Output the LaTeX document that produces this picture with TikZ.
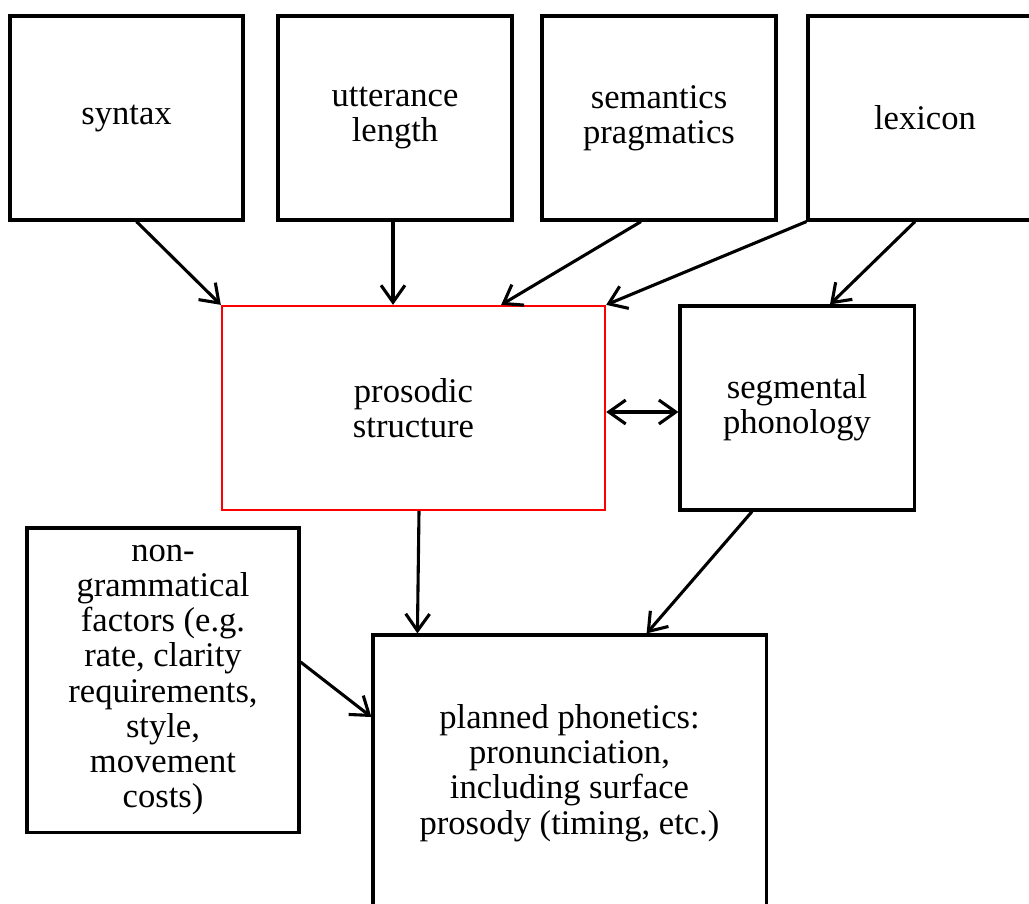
\documentclass[tikz,border=0pt]{standalone}
\usepackage{fontspec}
\setmainfont{Liberation Serif}
\usetikzlibrary{calc,arrows.meta}
\tikzset{
  box/.style={draw,line width=2.2pt,align=center,inner sep=0pt,
    font=\fontsize{24.6}{25}\selectfont},
  tip/.tip={Straight Barb[length=12pt,width=17pt,line width=2.2pt]},
  arr/.style={line width=2.2pt,-tip},
}
\begin{document}
\begin{tikzpicture}[x=0.025cm,y=-0.025cm]
\useasboundingbox (0,0) rectangle (1029,903);
\node[box,minimum width=5.825cm,minimum height=5.1cm] (syntax) at (126.5,118) {syntax};
\node[box,minimum width=5.85cm,minimum height=5.1cm] (utter) at (395,118) {utterance\\length};
\node[box,minimum width=5.85cm,minimum height=5.1cm] (seman) at (659,118) {semantics\\pragmatics};
\node[box,minimum width=5.85cm,minimum height=5.1cm] (lexicon) at (925,118) {lexicon};
\node[box,draw=red,line width=1.6pt,minimum width=9.575cm,minimum height=5.1cm] (prosodic) at (413.5,408) {prosodic\\structure};
\node[box,minimum width=5.85cm,minimum height=5.1cm] (segmental) at (797,408) {segmental\\phonology};
\node[box,minimum width=6.8cm,minimum height=7.6cm] (nongram) at (163,680) {non-\\grammatical\\factors (e.g.\\rate, clarity\\requirements,\\style,\\movement\\costs)};
\node[box,minimum width=9.825cm,minimum height=6.9cm] (planned) at (569.5,773) {planned phonetics:\\pronunciation,\\including surface\\prosody (timing, etc.)};
\draw[arr] ($(syntax.south)+(10,0)$) -- (prosodic.north west);
\draw[arr] ($(utter.south)+(-2,0)$) -- ($(prosodic.north)+(-20.5,0)$);
\draw[arr] ($(seman.south)+(-18,0)$) -- ($(prosodic.north east)+(-105,0)$);
\draw[arr] (lexicon.south west) -- (prosodic.north east);
\draw[arr] ($(lexicon.south)+(-10,0)$) -- ($(segmental.north)+(33,0)$);
\draw[arr,tip-tip] ($(prosodic.east)+(0,4)$) -- ($(segmental.west)+(0,4)$);
\draw[arr] ($(prosodic.south)+(5.5,0)$) -- ($(planned.north west)+(46,0)$);
\draw[arr] ($(segmental.south)+(-45,0)$) -- ($(planned.north east)+(-121,0)$);
\draw[arr] ($(nongram.east)+(0,-18)$) -- ($(planned.west)+(0,-56)$);
\end{tikzpicture}
\end{document}
